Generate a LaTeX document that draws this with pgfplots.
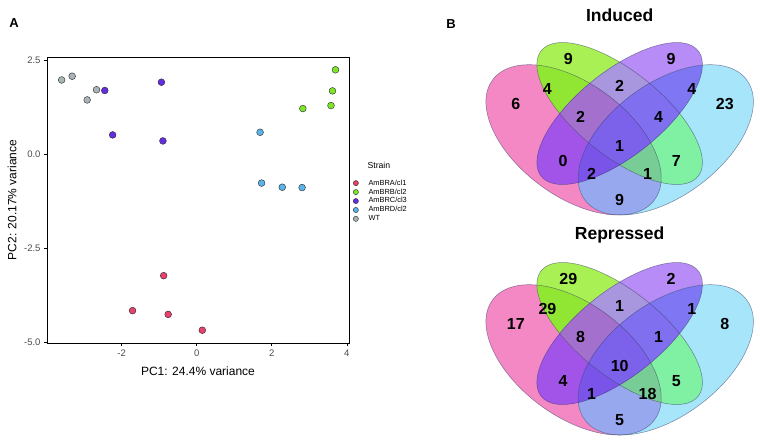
\documentclass[border=0pt]{standalone}
\usepackage{fontspec}
\setmainfont{Liberation Sans}
\usepackage{pgfplots}
\usepackage{pgfplotstable}
\pgfplotsset{compat=1.18}

\definecolor{cA}{RGB}{232,65,110}
\definecolor{cB}{RGB}{125,230,40}
\definecolor{cC}{RGB}{100,45,225}
\definecolor{cD}{RGB}{90,180,235}
\definecolor{cW}{RGB}{170,180,184}

% Venn region colours
\definecolor{rP}{RGB}{244,136,196}
\definecolor{rG}{RGB}{168,240,84}
\definecolor{rU}{RGB}{183,140,246}
\definecolor{rC}{RGB}{166,229,250}
\definecolor{rPG}{RGB}{145,230,52}
\definecolor{rGU}{RGB}{168,150,222}
\definecolor{rUC}{RGB}{126,118,242}
\definecolor{rPU}{RGB}{163,84,232}
\definecolor{rGC}{RGB}{128,240,162}
\definecolor{rPC}{RGB}{152,168,238}
\definecolor{rPGU}{RGB}{163,112,206}
\definecolor{rGUC}{RGB}{128,112,240}
\definecolor{rPUC}{RGB}{122,84,232}
\definecolor{rPGC}{RGB}{120,205,150}
\definecolor{rPGUC}{RGB}{124,98,234}
\definecolor{vEdge}{RGB}{60,60,100}

% Venn region counts (x, y in diagram units)
\pgfplotstableread{
x y n
0.333 0.776 9
0.667 0.776 9
0.162 0.606 6
0.842 0.606 23
0.265 0.662 4
0.500 0.674 2
0.735 0.662 4
0.373 0.556 2
0.627 0.556 4
0.500 0.447 1
0.316 0.390 0
0.684 0.390 7
0.409 0.340 2
0.591 0.340 1
0.500 0.242 9
}\induced
\pgfplotstableread{
x y n
0.333 0.776 29
0.667 0.776 2
0.162 0.606 17
0.842 0.606 8
0.265 0.662 29
0.500 0.674 1
0.735 0.662 1
0.373 0.556 8
0.627 0.556 1
0.500 0.447 10
0.316 0.390 4
0.684 0.390 5
0.409 0.340 1
0.591 0.340 18
0.500 0.242 5
}\repressed

\pgfplotsset{
  venn/.style={
    scale only axis, width=307.3pt, height=263.5pt,
    xmin=0, xmax=1, ymin=0, ymax=1,
    hide axis, clip=false,
  },
}

\newcommand{\shP}[1]{\path[#1, shift={(axis cs:0.35,0.47)}, yscale=0.8575, rotate=135] (0pt,0pt) ellipse [x radius=107.6pt, y radius=61.5pt];}
\newcommand{\shG}[1]{\path[#1, shift={(axis cs:0.50,0.57)}, yscale=0.8575, rotate=135] (0pt,0pt) ellipse [x radius=107.6pt, y radius=46.1pt];}
\newcommand{\shU}[1]{\path[#1, shift={(axis cs:0.50,0.57)}, yscale=0.8575, rotate=45] (0pt,0pt) ellipse [x radius=107.6pt, y radius=46.1pt];}
\newcommand{\shC}[1]{\path[#1, shift={(axis cs:0.65,0.47)}, yscale=0.8575, rotate=45] (0pt,0pt) ellipse [x radius=107.6pt, y radius=61.5pt];}
\newcommand{\fillall}[1]{\fill[#1] (axis cs:-0.1,-0.1) rectangle (axis cs:1.1,1.1);}

\newcommand{\vennellipses}{%
  \shP{fill=rP}\shG{fill=rG}\shU{fill=rU}\shC{fill=rC}%
  \begin{scope}\shP{clip}\shG{clip}\fillall{rPG}\end{scope}%
  \begin{scope}\shP{clip}\shU{clip}\fillall{rPU}\end{scope}%
  \begin{scope}\shP{clip}\shC{clip}\fillall{rPC}\end{scope}%
  \begin{scope}\shG{clip}\shU{clip}\fillall{rGU}\end{scope}%
  \begin{scope}\shG{clip}\shC{clip}\fillall{rGC}\end{scope}%
  \begin{scope}\shU{clip}\shC{clip}\fillall{rUC}\end{scope}%
  \begin{scope}\shP{clip}\shG{clip}\shU{clip}\fillall{rPGU}\end{scope}%
  \begin{scope}\shP{clip}\shG{clip}\shC{clip}\fillall{rPGC}\end{scope}%
  \begin{scope}\shP{clip}\shU{clip}\shC{clip}\fillall{rPUC}\end{scope}%
  \begin{scope}\shG{clip}\shU{clip}\shC{clip}\fillall{rGUC}\end{scope}%
  \begin{scope}\shP{clip}\shG{clip}\shU{clip}\shC{clip}\fillall{rPGUC}\end{scope}%
  \shP{draw=vEdge, draw opacity=0.6, line width=0.5pt}%
  \shG{draw=vEdge, draw opacity=0.6, line width=0.5pt}%
  \shU{draw=vEdge, draw opacity=0.6, line width=0.5pt}%
  \shC{draw=vEdge, draw opacity=0.6, line width=0.5pt}%
}

\begin{document}
\begin{tikzpicture}
\useasboundingbox (0pt,0pt) rectangle (760pt,-447pt);

\node[font=\fontsize{13}{13}\selectfont\bfseries] at (14pt,-23pt) {A};
\node[font=\fontsize{13}{13}\selectfont\bfseries] at (451pt,-24pt) {B};

\begin{axis}[
  at={(47pt,-343pt)}, anchor=south west,
  width=302pt, height=286pt, scale only axis,
  xmin=-3.99, xmax=4.06, ymin=-5.01, ymax=2.59,
  xtick={-2,0,2,4}, xticklabels={-2,0,2,4},
  ytick={-5,-2.5,0,2.5}, yticklabels={-5.0,-2.5,0.0,2.5},
  tick pos=left, tick align=outside,
  major tick length=3pt,
  every tick/.style={black, line width=0.5pt},
  axis line style={black, line width=0.9pt},
  ticklabel style={font=\fontsize{9.5}{11}\selectfont, text=black!70},
  xlabel={PC1: 24.4\% variance}, ylabel={PC2: 20.17\% variance},
  label style={font=\fontsize{12}{14}\selectfont},
  xlabel style={at={(axis description cs:0.5,-0.098)}, anchor=center},
  ylabel style={at={(axis description cs:-0.116,0.5)}, anchor=center},
  legend style={at={(axis description cs:1.0015,0.5857)}, anchor=north west, draw=none, fill=none,
    font=\fontsize{7.4}{8.8}\selectfont, row sep=-1.9pt},
  legend cell align=left,
  legend image code/.code={\draw[#1, mark size=2.6pt] plot coordinates {(0pt,0pt)}; \path (-3pt,0pt) (10.5pt,0pt);},
  clip=false,
]
\node[anchor=west, font=\fontsize{8.7}{10}\selectfont] at (axis description cs:1.0497,0.6224) {Strain};
\addplot[only marks, mark=*, mark size=3.4pt, mark options={fill=cA, draw=black!85, line width=0.4pt}]
  coordinates {(-0.88,-3.22) (-1.71,-4.15) (-0.76,-4.25) (0.15,-4.67)};
\addlegendentry{AmBRA/cl1}
\addplot[only marks, mark=*, mark size=3.4pt, mark options={fill=cB, draw=black!85, line width=0.4pt}]
  coordinates {(3.70,2.25) (3.62,1.69) (3.58,1.30) (2.83,1.22)};
\addlegendentry{AmBRB/cl2}
\addplot[only marks, mark=*, mark size=3.4pt, mark options={fill=cC, draw=black!85, line width=0.4pt}]
  coordinates {(-2.45,1.70) (-0.94,1.92) (-2.24,0.52) (-0.90,0.36)};
\addlegendentry{AmBRC/cl3}
\addplot[only marks, mark=*, mark size=3.4pt, mark options={fill=cD, draw=black!85, line width=0.4pt}]
  coordinates {(1.69,0.59) (1.73,-0.76) (2.28,-0.87) (2.81,-0.88)};
\addlegendentry{AmBRD/cl2}
\addplot[only marks, mark=*, mark size=3.4pt, mark options={fill=cW, draw=black!85, line width=0.4pt}]
  coordinates {(-3.60,1.98) (-3.32,2.08) (-2.92,1.45) (-2.67,1.72)};
\addlegendentry{WT}
\end{axis}

\begin{axis}[venn, at={(466pt,-263.7pt)}, anchor=south west]
\vennellipses
\addplot[draw=none, mark=none, nodes near coords, point meta=explicit symbolic,
  every node near coord/.append style={anchor=center, font=\fontsize{16}{16}\selectfont\bfseries}]
  table[x=x, y=y, meta=n] {\induced};
\node[font=\fontsize{17.5}{18}\selectfont\bfseries] at (axis cs:0.5,0.944) {Induced};
\end{axis}

\begin{axis}[venn, at={(466pt,-483.7pt)}, anchor=south west]
\vennellipses
\addplot[draw=none, mark=none, nodes near coords, point meta=explicit symbolic,
  every node near coord/.append style={anchor=center, font=\fontsize{16}{16}\selectfont\bfseries}]
  table[x=x, y=y, meta=n] {\repressed};
\node[font=\fontsize{17.5}{18}\selectfont\bfseries] at (axis cs:0.5,0.944) {Repressed};
\end{axis}
\end{tikzpicture}
\end{document}
